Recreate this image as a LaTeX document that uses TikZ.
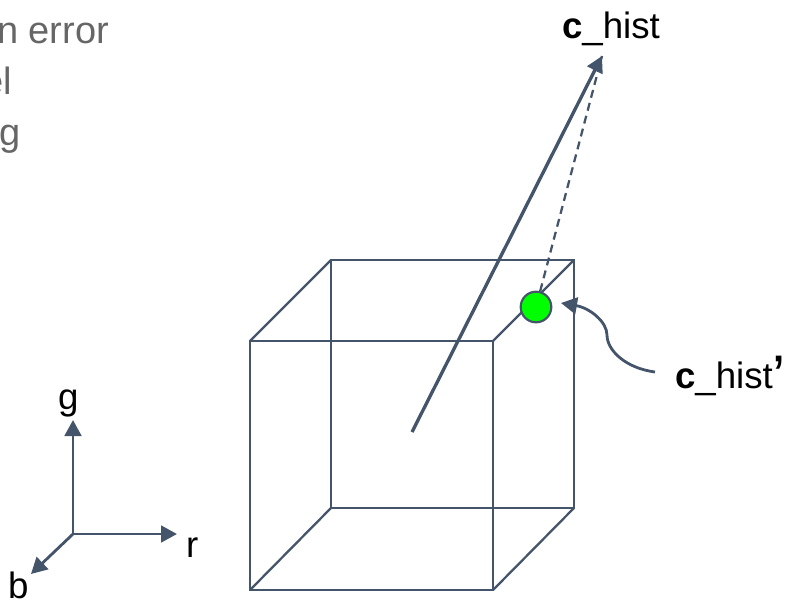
\documentclass[tikz,border=0pt]{standalone}
\usepackage{fontspec}
\setmainfont{Liberation Sans}
\usetikzlibrary{arrows.meta}
\definecolor{slate}{HTML}{44546A}
\definecolor{greytext}{HTML}{666666}
\definecolor{dotgreen}{HTML}{00FF00}
\tikzset{
  x=0.75pt,y=-0.75pt,
  edge/.style={draw=slate,line width=1.7pt,line join=miter},
  arrowline/.style={draw=slate,line width=2.5pt,-{Triangle[length=12pt,width=12.5pt]}},
  axisline/.style={draw=slate,line width=2.1pt,-{Triangle[length=12pt,width=12.5pt]}},
  lbl/.style={inner sep=0pt,outer sep=0pt,anchor=base west,text=black,font=\fontsize{27.5}{30}\selectfont},
  grey/.style={inner sep=0pt,outer sep=0pt,anchor=base east,text=greytext,font=\fontsize{28.5}{30}\selectfont},
}
\begin{document}
\begin{tikzpicture}
\useasboundingbox (0,0) rectangle (785,601);
\clip (0,0) rectangle (785,601);
% clipped bullet text
\node[grey] (t1) at (109,43) {n error};
\node[grey] (t2) at (12,94) {el};
\node[grey] (t3) at (21,145) {g};
% cube corners
\coordinate (fa) at (250,341);
\coordinate (fb) at (493,341);
\coordinate (fc) at (493,590);
\coordinate (fd) at (250,590);
\coordinate (ba) at (331,260);
\coordinate (bb) at (574,260);
\coordinate (bc) at (574,508);
\coordinate (bd) at (331,508);
\draw[edge] (fa) -- (fb) -- (fc) -- (fd) -- cycle;
\draw[edge] (ba) -- (bb) -- (bc) -- (bd) -- cycle;
\draw[edge] (fa) -- (ba);
\draw[edge] (fb) -- (bb);
\draw[edge] (fc) -- (bc);
\draw[edge] (fd) -- (bd);
% vectors
\coordinate (start) at (412,432);
\coordinate (tip) at (602,56);
\node[circle,draw=slate,line width=1.6pt,fill=dotgreen,inner sep=0pt,minimum size=23pt] (dot) at (536,307) {};
\draw[arrowline] (start) -- (tip);
\draw[edge,dash pattern=on 6pt off 4pt,line width=1.7pt] (dot) -- (tip);
% labels
\node[lbl] (chist) at (562,38) {\textbf{c}\_hist};
\node[lbl] (chistp) at (675,388) {\textbf{c}\_hist};
\node[inner sep=0pt,outer sep=0pt,anchor=base west,font=\fontsize{44}{48}\selectfont] (prime) at (772,396) {’};
\coordinate (cs) at (655,372);
\coordinate (ce) at (561,303);
\draw[axisline] (cs) .. controls (625,368) and (607,350) .. (607,335) .. controls (607,322) and (590,308) .. (ce);
% axes
\coordinate (o) at (73,534);
\coordinate (ag) at (73,420);
\coordinate (ar) at (177,534);
\coordinate (ab) at (31,574);
\draw[axisline] (o) -- (ag);
\draw[axisline] (o) -- (ar);
\draw[axisline] (o) -- (ab);
\node[lbl] (lg) at (58,409) {g};
\node[lbl] (lr) at (186,557) {r};
\node[lbl] (lb) at (8,598) {b};
\end{tikzpicture}
\end{document}
